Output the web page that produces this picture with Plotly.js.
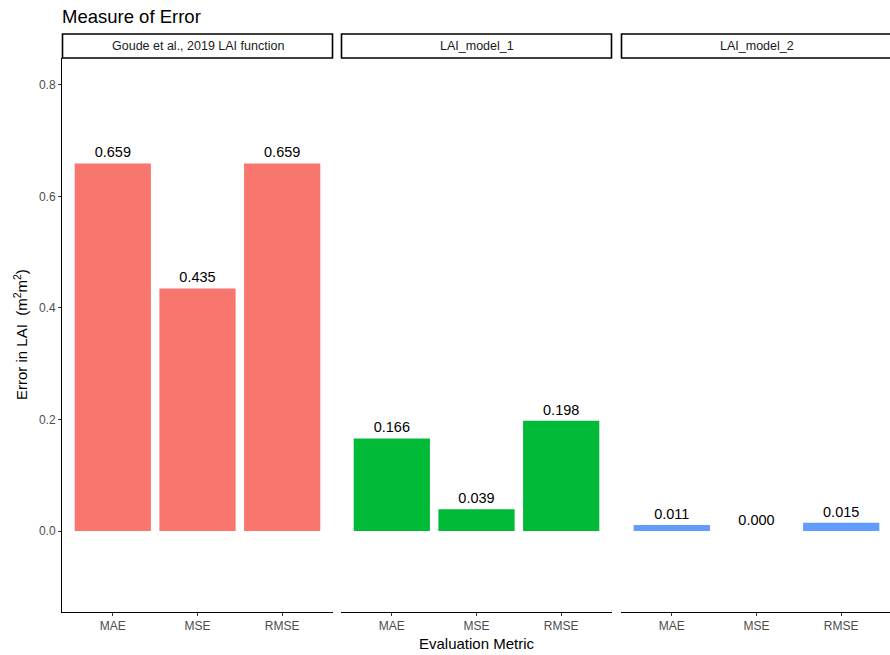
<!DOCTYPE html>
<html>
<head>
<meta charset="utf-8">
<script src="https://cdn.plot.ly/plotly-3.0.1.min.js"></script>
<style>html,body{margin:0;padding:0;overflow:hidden;background:#fff}#chart{width:892px;height:655px}</style>
</head>
<body>
<div id="chart"></div>
<script>
const metrics = ["MAE", "MSE", "RMSE"];
const panels = ["Goude et al., 2019 LAI function", "LAI_model_1", "LAI_model_2"];
const goudeValues = [0.659, 0.435, 0.659];
const model1Values = [0.166, 0.039, 0.198];
const model2Values = [0.011, 0.000, 0.015];
const colors = ["#F8766D", "#00BA38", "#619CFF"];
const yTicks = [0, 0.2, 0.4, 0.6, 0.8];

const seriesList = [goudeValues, model1Values, model2Values];
const font = "Liberation Sans, Arial, sans-serif";
const W = 892, H = 655, ml = 62, mr = 0, mt = 58, mb = 43;
const pw = W - ml - mr;
const domains = [[0, 271 / pw], [279 / pw, 550 / pw], [559 / pw, 1]];

const traces = seriesList.map((vals, i) => ({
  type: "bar",
  x: metrics,
  y: vals,
  xaxis: i === 0 ? "x" : "x" + (i + 1),
  yaxis: "y",
  width: 0.9,
  marker: {color: colors[i]},
  text: vals.map(v => v.toFixed(3)),
  textposition: "outside",
  textfont: {family: font, size: 14.5, color: "#000"},
  cliponaxis: false,
  hoverinfo: "x+y",
  showlegend: false
}));

const layout = {
  width: W, height: H,
  margin: {l: ml, r: mr, t: mt, b: mb, pad: 0},
  paper_bgcolor: "#fff", plot_bgcolor: "#fff",
  font: {family: font, color: "#4D4D4D"},
  title: {text: "Measure of Error", x: 0, xref: "paper", xanchor: "left", y: 1 - 17 / H, yanchor: "middle",
          font: {family: font, size: 18.5, color: "#000"}},
  yaxis: {
    domain: [0, 1], range: [-0.145, 0.848], anchor: "x",
    tickvals: yTicks, ticktext: yTicks.map(v => v.toFixed(1)),
    showline: true, linecolor: "#000", linewidth: 1,
    ticks: "outside", ticklen: 3, tickcolor: "#333", tickwidth: 1,
    showgrid: false, zeroline: false,
    tickfont: {family: font, size: 12, color: "#4D4D4D"}
  },
  annotations: [],
  shapes: []
};

domains.forEach((d, i) => {
  const key = i === 0 ? "xaxis" : "xaxis" + (i + 1);
  layout[key] = {
    domain: d, anchor: "y", type: "category",
    categoryorder: "array", categoryarray: metrics,
    range: [-0.6, 2.6],
    showline: true, linecolor: "#000", linewidth: 1,
    ticks: "outside", ticklen: 3, tickcolor: "#333", tickwidth: 1,
    showgrid: false, zeroline: false,
    tickfont: {family: font, size: 12, color: "#4D4D4D"}
  };
  const stripH = 24 / (H - mt - mb);
  layout.shapes.push({
    type: "rect", xref: "paper", yref: "paper",
    x0: d[0] + 0.5 / pw, x1: d[1] - 0.5 / pw, y0: 1, y1: 1 + stripH,
    line: {color: "#000", width: 1.6}, fillcolor: "#fff", layer: "above"
  });
  layout.annotations.push({
    text: panels[i], xref: "paper", yref: "paper",
    x: (d[0] + d[1]) / 2, y: 1 + stripH / 2, xanchor: "center", yanchor: "middle",
    showarrow: false, font: {family: font, size: 12.5, color: "#1A1A1A"}
  });
});

layout.annotations.push({
  text: "Evaluation Metric", xref: "paper", yref: "paper",
  x: 0.5, y: -(643 - 612) / (H - mt - mb), xanchor: "center", yanchor: "middle",
  showarrow: false, font: {family: font, size: 15, color: "#000"}
});
layout.annotations.push({
  text: "Error in LAI  (m<sup>2</sup>m<sup>2</sup>)", xref: "paper", yref: "paper",
  x: -(ml - 20) / pw, y: 0.5, xanchor: "center", yanchor: "middle",
  textangle: -90, showarrow: false, font: {family: font, size: 15, color: "#000"}
});

Plotly.newPlot("chart", traces, layout, {displayModeBar: false, staticPlot: true});
</script>
</body>
</html>
